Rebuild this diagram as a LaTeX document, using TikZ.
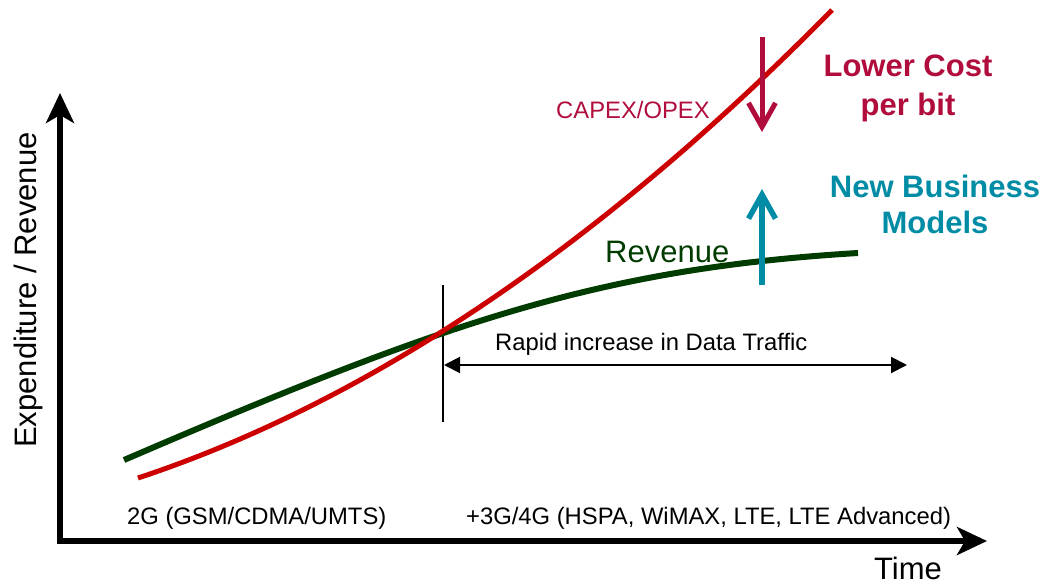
\documentclass[tikz,border=0pt]{standalone}
\usepackage{fontspec}
\setmainfont{Liberation Sans}
\usetikzlibrary{arrows.meta}
\definecolor{costred}{RGB}{204,0,0}
\definecolor{crimson}{RGB}{176,12,60}
\definecolor{revgreen}{RGB}{0,60,0}
\definecolor{bizteal}{RGB}{0,140,165}
\begin{document}
\begin{tikzpicture}[x=1pt,y=-1pt,
  axisline/.style={line width=6.7pt, line join=miter,
    {Stealth[length=30pt,width=28pt,inset=8pt]}-{Stealth[length=30pt,width=28pt,inset=8pt]}},
  marker/.style={line width=2pt},
  span/.style={line width=2pt,
    {Triangle[length=16pt,width=16pt]}-{Triangle[length=16pt,width=16pt]}},
  curve/.style={line cap=butt},
  trend/.style={line width=5pt, -{Straight Barb[length=24pt,width=27pt]}},
  smalltext/.style={font=\fontsize{23.8pt}{28pt}\selectfont, inner sep=0pt},
  bigtext/.style={font=\fontsize{31pt}{37pt}\selectfont, inner sep=0pt},
  boldtext/.style={font=\fontsize{31pt}{37pt}\selectfont\bfseries, inner sep=0pt, anchor=base}]

\useasboundingbox (0,0) rectangle (1044,586);

% axes
\coordinate (ytip) at (60,93);
\coordinate (origin) at (60,541);
\coordinate (xtip) at (987,541);
\draw[axisline] (ytip) -- (origin) -- (xtip);

% start of the data-traffic era
\coordinate (mtop) at (443,285);
\coordinate (mbot) at (443,422);
\draw[marker] (mtop) -- (mbot);
\coordinate (sleft) at (444,365);
\coordinate (sright) at (907,365);
\draw[span] (sleft) -- (sright);

% revenue and cost curves
\coordinate (gstart) at (124,460);
\coordinate (gend) at (858,253);
\draw[curve, line width=6pt, revgreen] (gstart) .. controls (444,322.4) and (598,268.6) .. (gend);
\coordinate (rstart) at (138,478);
\coordinate (rend) at (832,10);
\draw[curve, line width=5pt, costred] (rstart) .. controls (369.3,401.3) and (600.7,245.3) .. (rend);

% trend arrows
\coordinate (ctop) at (762,37);
\coordinate (cbot) at (762,132);
\draw[trend, crimson] (ctop) -- (cbot);
\coordinate (nbot) at (762,285);
\coordinate (ntop) at (762,189);
\draw[trend, bizteal, line width=5.5pt] (nbot) -- (ntop);

% labels
\node[smalltext, anchor=base west, text=crimson] (capex) at (556,118) {CAPEX/OPEX};
\node[bigtext, anchor=base west, text=revgreen] (revenue) at (605,262) {Revenue};
\node[boldtext, text=crimson] (lower) at (908,77) {Lower Cost};
\node[boldtext, text=crimson] (perbit) at (908,115) {per bit};
\node[boldtext, text=bizteal] (newbiz) at (935,197) {New Business};
\node[boldtext, text=bizteal] (models) at (935,233) {Models};
\node[smalltext, anchor=base west] (rapid) at (495,350) {Rapid increase in Data Traffic};
\node[smalltext, anchor=base west] (gen2) at (127,524) {2G (GSM/CDMA/UMTS)};
\node[smalltext, anchor=base west] (gen34) at (466,524) {+3G/4G (HSPA, WiMAX, LTE, LTE Advanced)};
\node[bigtext, anchor=base] (time) at (908,579) {Time};
\node[bigtext, anchor=base, rotate=90] (ylabel) at (36,290) {Expenditure / Revenue};
\end{tikzpicture}
\end{document}
